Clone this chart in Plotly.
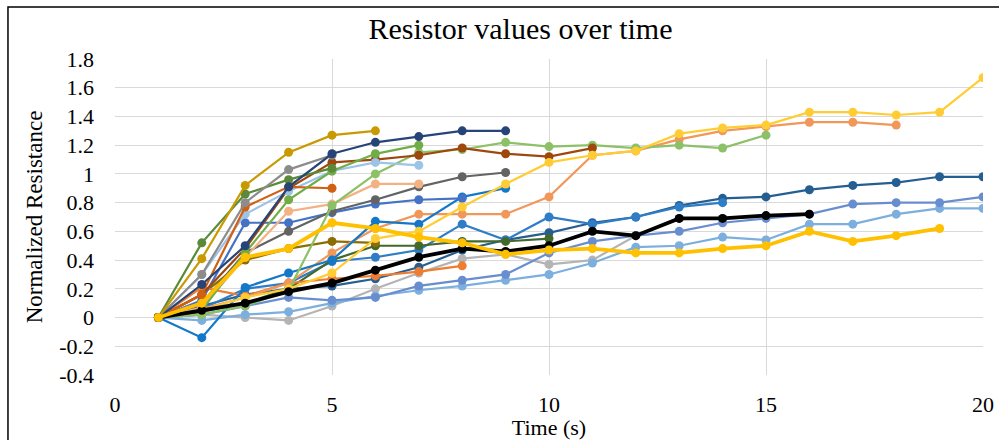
import plotly.graph_objects as go

time = list(range(1, 21))

gold_dark = [0, .41, .92, 1.15, 1.27, 1.30]
navy = [0, .23, .50, .91, 1.14, 1.22, 1.26, 1.30, 1.30]
grey_mid = [0, .30, .80, 1.03, 1.13]
green_dark = [0, .52, .86, .96, 1.04]
green_mid = [0, .05, .45, .82, 1.02, 1.14, 1.20]
orange_dark = [0, .16, .77, .91, .90]
light_blue = [0, .30, .72, .88, 1.02, 1.08, 1.06]
brown = [0, .16, .48, .90, 1.08, 1.10, 1.13, 1.18, 1.14, 1.12, 1.18]
light_green = [0, .02, .08, .19, .78, 1.00, 1.15, 1.17, 1.22, 1.19, 1.20, 1.18, 1.20, 1.18, 1.27]
dark_grey = [0, .10, .45, .60, .74, .82, .91, .98, 1.01]
peach = [0, .07, .42, .74, .79, .93, .93]
blue = [0, .12, .66, .66, .73, .79, .82, .83]
bright_blue = [0, -.14, .21, .31, .40, .67, .65, .84, .90]
gold_thick = [0, .10, .42, .48, .66, .62, .56, .52, .44, .47, .48, .45, .45, .48, .50, .60, .53, .57, .62]
yellow = [0, .05, .14, .20, .31, .55, .60, .77, .93, 1.08, 1.13, 1.16, 1.28, 1.32, 1.34, 1.43, 1.43, 1.41, 1.43, 1.67]
orange = [0, .21, .15, .24, .27, .29, .32, .36]
salmon = [0, .06, .14, .24, .45, .62, .72, .72, .72, .84, 1.13, 1.16, 1.24, 1.30, 1.33, 1.36, 1.36, 1.34]
black = [0, .05, .10, .18, .24, .33, .42, .48, .46, .50, .60, .57, .69, .69, .71, .72]
steel = [0, .08, .16, .20, .22, .27, .35, .47, .54, .59, .66, .70, .78, .83, .84, .89, .92, .94, .98, .98]
med_blue = [0, .06, .20, .24, .39, .42, .47, .65, .54, .70, .65, .70, .77, .80]
cornflower = [0, .02, .08, .14, .12, .14, .22, .26, .30, .45, .53, .57, .60, .66, .69, .72, .79, .80, .80, .84]
sky = [0, -.02, .02, .04, .10, .15, .19, .22, .26, .30, .38, .49, .50, .56, .54, .65, .65, .72, .76, .76]
light_grey = [0, .02, .0, -.02, .08, .20, .31, .41, .44, .37, .40, .57, .69, .69, .70]
olive = [0, .16, .40, .48, .53, .52]
dark_green = [0, .04, .10, .20, .40, .50, .50, .53, .53, .55]

y_tick_vals = [-0.4, -0.2, 0, 0.2, 0.4, 0.6, 0.8, 1.0, 1.2, 1.4, 1.6, 1.8]
y_tick_text = ["-0.4", "-0.2", "0", "0.2", "0.4", "0.6", "0.8", "1", "1.2", "1.4", "1.6", "1.8"]
x_tick_vals = [0, 5, 10, 15, 20]

series = [
    (light_grey, "#B4B4B4", 2.2),
    (sky, "#7CAFDD", 2.2),
    (cornflower, "#698ED0", 2.2),
    (steel, "#255E91", 2.2),
    (med_blue, "#2E7DC6", 2.2),
    (dark_green, "#43682B", 2.2),
    (olive, "#8C6D00", 2.2),
    (orange, "#ED7D31", 2.2),
    (salmon, "#F1975A", 2.2),
    (bright_blue, "#1478C8", 2.2),
    (blue, "#4472C4", 2.2),
    (dark_grey, "#636363", 2.2),
    (peach, "#F4B183", 2.2),
    (light_green, "#8CC168", 2.2),
    (brown, "#9E480E", 2.2),
    (light_blue, "#9DC3E6", 2.2),
    (orange_dark, "#D26012", 2.2),
    (green_mid, "#70AD47", 2.2),
    (green_dark, "#5A8A39", 2.2),
    (grey_mid, "#8C8C8C", 2.2),
    (navy, "#264478", 2.2),
    (gold_dark, "#C99A00", 2.2),
    (yellow, "#FFCD33", 2.2),
    (black, "#000000", 3.8),
    (gold_thick, "#FFC000", 3.8),
]

fig = go.Figure()
for vals, col, w in series:
    fig.add_trace(go.Scatter(
        x=time[:len(vals)], y=vals, mode="lines+markers",
        line=dict(color=col, width=w),
        marker=dict(color=col, size=9),
        showlegend=False,
    ))

ff = "Liberation Serif"
fig.update_layout(
    width=999, height=440,
    margin=dict(l=115, r=16, t=59, b=65),
    paper_bgcolor="white", plot_bgcolor="white",
    font=dict(family=ff, size=22, color="#000000"),
    title=dict(text="Resistor values over time", x=0.521, xanchor="center", xref="container",
               y=0.936, yanchor="middle", font=dict(size=30, family=ff, color="#000")),
    xaxis=dict(range=[0, 20], tickvals=x_tick_vals, showgrid=True, gridcolor="#D9D9D9",
               gridwidth=1, zeroline=False, showline=False, ticks="",
               ticklabelstandoff=14, tickfont=dict(family=ff, size=22, color="#000"),
               automargin=False,
               title=dict(text="Time (s)", standoff=0, font=dict(family=ff, size=22, color="#000"))),
    yaxis=dict(range=[-0.4, 1.8], tickvals=y_tick_vals, ticktext=y_tick_text,
               showgrid=True, gridcolor="#D9D9D9", gridwidth=1, zeroline=False,
               showline=False, ticks="", ticklabelstandoff=20, automargin=False,
               tickfont=dict(family=ff, size=22, color="#000"),
               title=dict(text="Normalized Resistance", standoff=10, font=dict(family=ff, size=23, color="#000"))),
    shapes=[dict(type="rect", xref="paper", yref="paper",
                 x0=-0.1233, x1=1.1, y0=-0.4, y1=1.1646,
                 line=dict(color="#000000", width=1.5), fillcolor="rgba(0,0,0,0)", layer="above")],
)

fig.write_html("out.html", config={"displayModeBar": False},
               post_script="document.body.style.margin='0';")
